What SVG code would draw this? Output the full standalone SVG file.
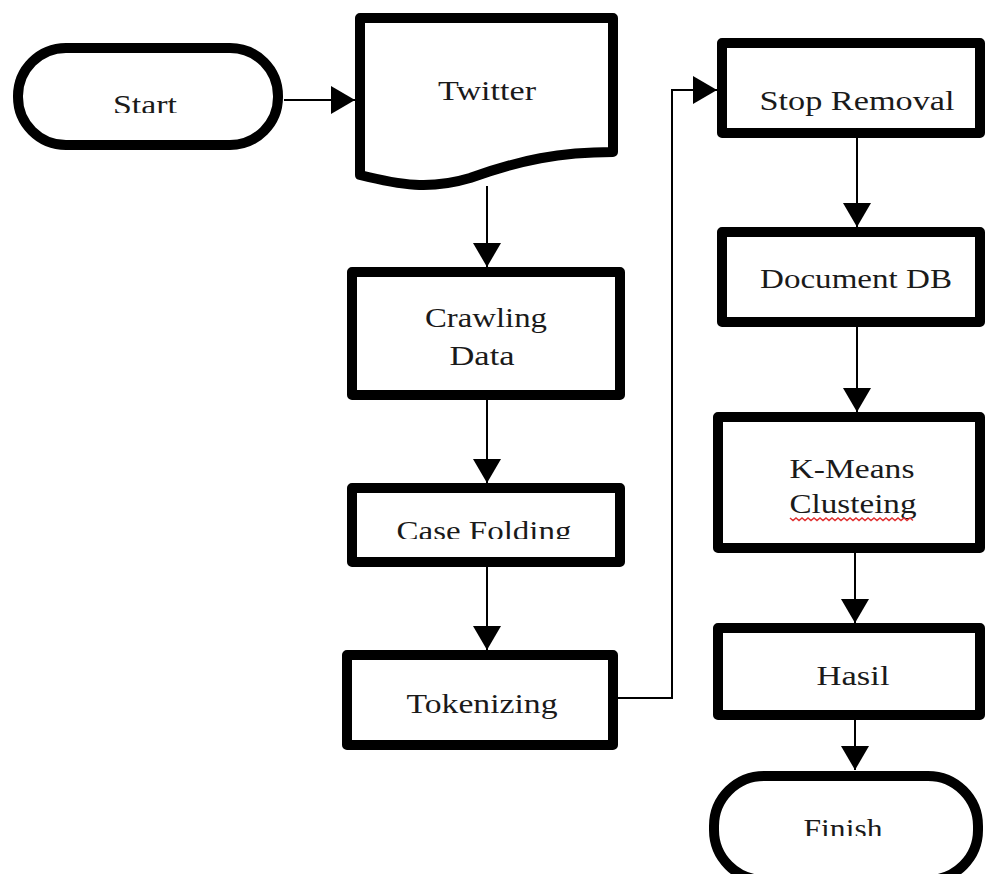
<svg xmlns="http://www.w3.org/2000/svg" width="989" height="874" viewBox="0 0 989 874">
<style>
.shape{fill:#fff;stroke:#000;stroke-width:10;stroke-linejoin:round}
.lbl{font-family:"Liberation Serif","Times New Roman",serif;font-size:27px;fill:#1a1a1a;text-anchor:middle}
.conn{fill:none;stroke:#000;stroke-width:2}
</style>
<defs>
<marker id="arr" markerUnits="userSpaceOnUse" markerWidth="26" markerHeight="30" refX="24" refY="14" orient="auto">
<path d="M0,0 L24,14 L0,28 Z" fill="#000"/>
</marker>
<clipPath id="cStart"><rect x="0" y="0" width="300" height="113"/></clipPath>
<clipPath id="cCase"><rect x="340" y="480" width="290" height="59"/></clipPath>
<clipPath id="cFin"><rect x="700" y="760" width="289" height="76"/></clipPath>
</defs>
<rect width="989" height="874" fill="#fff"/>
<g id="connectors">
<line class="conn" x1="284" y1="100" x2="355" y2="100" marker-end="url(#arr)"/>
<line class="conn" x1="487" y1="186" x2="487" y2="267" marker-end="url(#arr)"/>
<line class="conn" x1="487" y1="400" x2="487" y2="483" marker-end="url(#arr)"/>
<line class="conn" x1="487" y1="567" x2="487" y2="650" marker-end="url(#arr)"/>
<polyline class="conn" points="618,698 672,698 672,90 717,90" marker-end="url(#arr)"/>
<line class="conn" x1="857" y1="138" x2="857" y2="227" marker-end="url(#arr)"/>
<line class="conn" x1="857" y1="327" x2="857" y2="412" marker-end="url(#arr)"/>
<line class="conn" x1="855" y1="553" x2="855" y2="623" marker-end="url(#arr)"/>
<line class="conn" x1="855" y1="720" x2="855" y2="770" marker-end="url(#arr)"/>
</g>
<g id="start">
<rect class="shape" x="18" y="48" width="260" height="97" rx="48" ry="48"/>
<text class="lbl" x="145" y="114" textLength="64" lengthAdjust="spacingAndGlyphs" clip-path="url(#cStart)">Start</text>
</g>
<g id="twitter">
<path class="shape" d="M360,18 L613,18 L613,152 C560,152 520,160 470,178 C430,190 400,185 360,175 Z"/>
<text class="lbl" x="487" y="100" textLength="98" lengthAdjust="spacingAndGlyphs">Twitter</text>
</g>
<g id="crawling">
<rect class="shape" x="352" y="272" width="268" height="123"/>
<text class="lbl" x="486" y="327" textLength="122" lengthAdjust="spacingAndGlyphs">Crawling</text>
<text class="lbl" x="482" y="365" textLength="65" lengthAdjust="spacingAndGlyphs">Data</text>
</g>
<g id="casefolding">
<rect class="shape" x="352" y="488" width="268" height="74"/>
<text class="lbl" x="484" y="540" textLength="175" lengthAdjust="spacingAndGlyphs" clip-path="url(#cCase)">Case Folding</text>
</g>
<g id="tokenizing">
<rect class="shape" x="347" y="655" width="266" height="90"/>
<text class="lbl" x="482" y="713" textLength="151" lengthAdjust="spacingAndGlyphs">Tokenizing</text>
</g>
<g id="stopremoval">
<rect class="shape" x="722" y="43" width="258" height="90"/>
<text class="lbl" x="857" y="110" textLength="195" lengthAdjust="spacingAndGlyphs">Stop Removal</text>
</g>
<g id="documentdb">
<rect class="shape" x="722" y="232" width="258" height="90"/>
<text class="lbl" x="856" y="288" textLength="192" lengthAdjust="spacingAndGlyphs">Document DB</text>
</g>
<g id="kmeans">
<rect class="shape" x="718" y="417" width="262" height="131"/>
<text class="lbl" x="852" y="478" textLength="125" lengthAdjust="spacingAndGlyphs">K-Means</text>
<text class="lbl" x="853" y="513" textLength="127" lengthAdjust="spacingAndGlyphs">Clusteing</text>
<path d="M790,518 l3,2.5 l3,-2.5 l3,2.5 l3,-2.5 l3,2.5 l3,-2.5 l3,2.5 l3,-2.5 l3,2.5 l3,-2.5 l3,2.5 l3,-2.5 l3,2.5 l3,-2.5 l3,2.5 l3,-2.5 l3,2.5 l3,-2.5 l3,2.5 l3,-2.5 l3,2.5 l3,-2.5 l3,2.5 l3,-2.5 l3,2.5 l3,-2.5 l3,2.5 l3,-2.5 l3,2.5 l3,-2.5 l3,2.5 l3,-2.5 l3,2.5 l3,-2.5 l3,2.5 l3,-2.5 l3,2.5 l3,-2.5 l3,2.5 l3,-2.5 l3,2.5" fill="none" stroke="#e03030" stroke-width="1.5"/>
</g>
<g id="hasil">
<rect class="shape" x="718" y="628" width="262" height="87"/>
<text class="lbl" x="853" y="685" textLength="73" lengthAdjust="spacingAndGlyphs">Hasil</text>
</g>
<g id="finish">
<rect class="shape" x="714" y="776" width="264" height="104" rx="50" ry="50"/>
<text class="lbl" x="843" y="838" textLength="79" lengthAdjust="spacingAndGlyphs" clip-path="url(#cFin)">Finish</text>
</g>
</svg>
